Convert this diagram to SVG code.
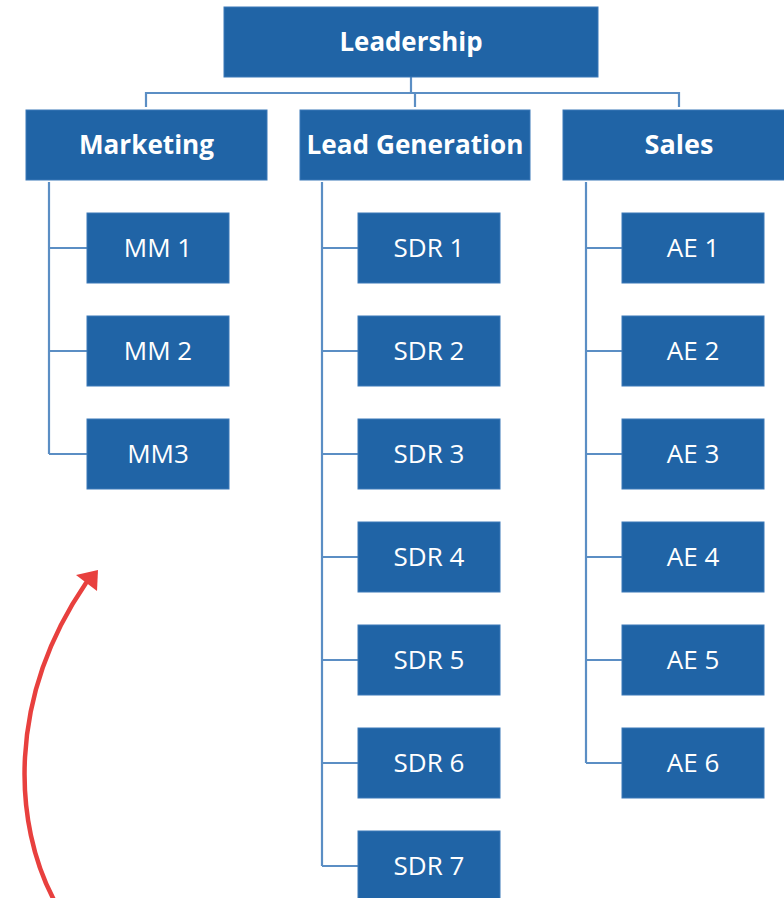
<svg xmlns="http://www.w3.org/2000/svg" width="784" height="898" viewBox="0 0 784 898">
  <defs>
    <style>
      .box { fill: #2064A6; stroke: #3B78B8; stroke-width: 1; }
      .head { font-family: "Open Sans", "Noto Sans", sans-serif; font-weight: bold; font-size: 27px; fill: #ffffff; text-anchor: middle; }
      .item { font-family: "Open Sans", "Noto Sans", sans-serif; font-size: 26px; fill: #ffffff; text-anchor: middle; }
      .link { fill: none; stroke: #5B8EC4; stroke-width: 2.2; }
      .flow { fill: none; stroke: #E8403E; stroke-width: 4.5; stroke-linecap: round; }
    </style>
  </defs>

  <!-- connectors -->
  <g id="connectors">
    <path class="link" d="M411,77 V93 M146,107 V93 H679 V107 M415,93 V107"/>
    <path class="link" d="M49,182 V454 M49,248 H87 M49,351 H87 M49,454 H87"/>
    <path class="link" d="M322,182 V866 M322,248 H358 M322,351 H358 M322,454 H358 M322,557 H358 M322,660 H358 M322,763 H358 M322,866 H358"/>
    <path class="link" d="M586,182 V763 M586,248 H622 M586,351 H622 M586,454 H622 M586,557 H622 M586,660 H622 M586,763 H622"/>
  </g>

  <!-- top level -->
  <g id="leadership"><rect class="box" x="224" y="7" width="374" height="70"/><text class="head" x="411" y="51" textLength="143" lengthAdjust="spacingAndGlyphs">Leadership</text></g>

  <!-- departments -->
  <g id="marketing"><rect class="box" x="26" y="110" width="241" height="70"/><text class="head" x="146.5" y="154" textLength="135" lengthAdjust="spacingAndGlyphs">Marketing</text></g>
  <g id="lead-generation"><rect class="box" x="300" y="110" width="230" height="70"/><text class="head" x="415" y="154" textLength="217" lengthAdjust="spacingAndGlyphs">Lead Generation</text></g>
  <g id="sales"><rect class="box" x="563" y="110" width="232" height="70"/><text class="head" x="679" y="154">Sales</text></g>

  <!-- marketing team -->
  <g id="mm1"><rect class="box" x="87" y="213" width="142" height="70"/><text class="item" x="158" y="257">MM 1</text></g>
  <g id="mm2"><rect class="box" x="87" y="316" width="142" height="70"/><text class="item" x="158" y="360">MM 2</text></g>
  <g id="mm3"><rect class="box" x="87" y="419" width="142" height="70"/><text class="item" x="158" y="463">MM3</text></g>

  <!-- lead generation team -->
  <g id="sdr1"><rect class="box" x="358" y="213" width="142" height="70"/><text class="item" x="429" y="257">SDR 1</text></g>
  <g id="sdr2"><rect class="box" x="358" y="316" width="142" height="70"/><text class="item" x="429" y="360">SDR 2</text></g>
  <g id="sdr3"><rect class="box" x="358" y="419" width="142" height="70"/><text class="item" x="429" y="463">SDR 3</text></g>
  <g id="sdr4"><rect class="box" x="358" y="522" width="142" height="70"/><text class="item" x="429" y="566">SDR 4</text></g>
  <g id="sdr5"><rect class="box" x="358" y="625" width="142" height="70"/><text class="item" x="429" y="669">SDR 5</text></g>
  <g id="sdr6"><rect class="box" x="358" y="728" width="142" height="70"/><text class="item" x="429" y="772">SDR 6</text></g>
  <g id="sdr7"><rect class="box" x="358" y="831" width="142" height="70"/><text class="item" x="429" y="875">SDR 7</text></g>

  <!-- sales team -->
  <g id="ae1"><rect class="box" x="622" y="213" width="142" height="70"/><text class="item" x="693" y="257">AE 1</text></g>
  <g id="ae2"><rect class="box" x="622" y="316" width="142" height="70"/><text class="item" x="693" y="360">AE 2</text></g>
  <g id="ae3"><rect class="box" x="622" y="419" width="142" height="70"/><text class="item" x="693" y="463">AE 3</text></g>
  <g id="ae4"><rect class="box" x="622" y="522" width="142" height="70"/><text class="item" x="693" y="566">AE 4</text></g>
  <g id="ae5"><rect class="box" x="622" y="625" width="142" height="70"/><text class="item" x="693" y="669">AE 5</text></g>
  <g id="ae6"><rect class="box" x="622" y="728" width="142" height="70"/><text class="item" x="693" y="772">AE 6</text></g>

  <!-- upward arrow -->
  <g id="arrow">
    <path class="flow" d="M54,900 C14,825 6,700 86,583"/>
    <polygon points="98,570 76,575 97,591" fill="#E8403E"/>
  </g>
</svg>
